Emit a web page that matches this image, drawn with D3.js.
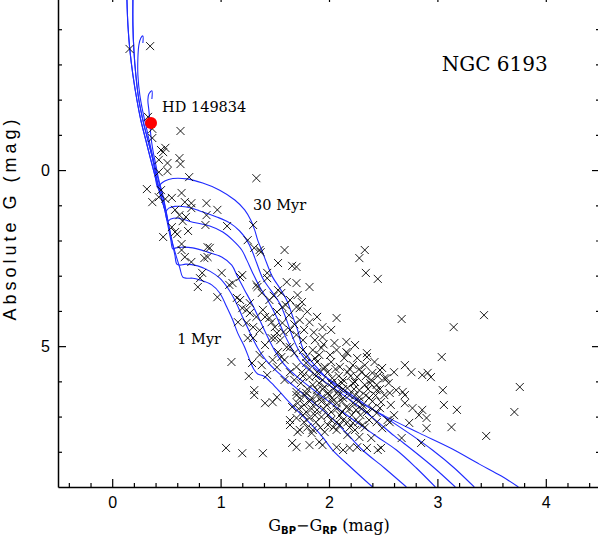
<!DOCTYPE html>
<html><head><meta charset="utf-8">
<script src="https://cdn.jsdelivr.net/npm/d3@7"></script>
<style>body{margin:0;background:#fff;} svg{display:block}</style>
</head><body><svg id="c" width="598" height="550"></svg>
<script>
// ---- data ----
const xMajorTicks=[0,1,2,3,4];
const xMinorTicks=[-0.4,-0.2,0.2,0.4,0.6,0.8,1.2,1.4,1.6,1.8,2.2,2.4,2.6,2.8,3.2,3.4,3.6,3.8,4.2,4.4];
const yMajorTicks=[0,5];
const yMinorTicks=[-4,-3,-2,-1,1,2,3,4,6,7,8];
const highlightStar=[0.358,-1.34];
const stars=[
[0.16,-3.44],[0.35,-3.52],[0.33,-1.51],[0.37,-1.17],[0.37,-0.91],[0.63,-1.11],[0.45,-0.57],[0.49,-0.63],[0.47,-0.51],[0.43,-0.29],
[0.51,-0.20],[0.62,-0.34],[0.63,-0.17],[0.43,0.06],[0.51,0.03],[0.71,0.20],[1.33,0.23],[0.32,0.54],[0.45,0.57],[0.37,0.91],
[0.43,0.77],[0.49,0.82],[0.55,0.79],[0.64,0.65],[0.67,0.91],[0.87,0.94],[0.97,1.13],[0.58,1.13],[0.62,1.28],[0.68,1.33],
[0.73,1.08],[0.65,1.45],[0.87,1.28],[0.86,1.56],[1.06,1.59],[0.55,1.62],[0.58,1.76],[0.60,1.82],[0.70,1.73],[0.47,1.90],
[0.64,2.10],[0.88,2.19],[0.73,0.94],[1.30,1.56],[1.25,1.99],[0.64,2.27],[0.67,2.47],[0.73,2.61],[0.90,2.21],[0.88,2.47],
[1.31,2.21],[1.36,2.27],[0.83,2.92],[0.81,3.07],[1.01,2.92],[1.11,3.21],[1.18,3.04],[0.79,3.32],[0.97,3.61],[1.15,3.63],
[1.08,3.26],[1.18,3.69],[1.27,3.78],[1.24,3.97],[1.16,4.32],[1.24,4.34],[1.33,4.17],[1.39,3.97],[1.34,3.32],[1.43,3.07],
[1.43,2.92],[1.53,2.64],[1.59,2.27],[1.70,2.75],[1.70,3.21],[1.82,3.32],[1.75,3.75],[1.82,4.32],[1.89,4.17],[1.94,4.46],
[2.02,4.54],[2.07,4.20],[2.28,2.50],[2.33,2.27],[2.34,2.92],[2.45,3.09],[1.25,4.77],[1.30,4.77],[1.52,4.63],[1.57,4.34],
[2.16,4.88],[2.24,4.97],[1.66,2.72],[1.61,3.18],[1.33,3.26],[1.53,3.41],[1.71,3.55],[1.73,3.92],[1.57,3.89],[1.52,4.03],
[1.41,4.17],[2.67,4.23],[3.15,4.46],[3.43,4.12],[1.50,4.77],[1.56,5.31],[2.16,5.17],[3.04,5.31],[2.35,5.31],[2.47,5.68],
[2.60,5.74],[2.70,5.54],[2.76,5.74],[2.86,5.82],[2.94,5.88],[2.53,5.91],[2.44,6.10],[2.56,6.33],[2.62,6.25],[2.70,6.39],
[3.05,6.25],[3.06,6.67],[3.18,6.81],[2.86,6.81],[2.77,6.76],[2.70,6.62],[2.74,7.18],[2.90,7.33],[3.13,7.30],[3.45,7.55],
[2.54,7.10],[2.67,7.61],[2.85,7.75],[2.45,7.95],[1.39,8.04],[1.66,7.75],[1.91,7.72],[2.13,7.95],[2.26,7.87],[1.31,6.25],
[1.41,6.62],[1.48,6.59],[1.64,7.10],[1.71,7.44],[1.84,7.47],[2.91,5.76],[2.49,5.62],[3.76,6.16],[3.71,6.87],[2.83,6.96],
[2.90,7.04],[2.56,7.16],[1.26,5.85],[1.59,5.96],[1.31,6.39],[1.52,6.45],[1.70,6.39],[1.71,6.62],[1.64,7.24],[1.70,7.87],
[1.05,7.89],[1.20,8.04],[0.85,2.50],[1.37,2.33],[1.20,2.98],[1.56,3.49],[1.20,3.92],[1.27,4.06],[1.45,4.20],[1.63,4.12],
[1.70,3.89],[1.30,4.46],[1.50,4.46],[1.47,4.77],[1.55,4.83],[1.61,5.03],[1.53,5.17],[1.10,5.45],[1.29,5.48],[1.79,5.31],
[1.70,5.59],[1.70,4.68],[1.76,4.83],[1.94,4.74],[2.35,5.20],[2.42,5.45],[1.93,5.05],[2.01,5.25],[2.07,5.11],[2.17,5.20],
[1.87,5.34],[1.79,5.48],[1.96,5.59],[2.10,5.59],[2.22,5.54],[2.30,5.74],[2.40,5.76],[2.51,5.91],[1.68,5.96],[1.82,5.88],
[1.94,5.96],[2.03,5.91],[2.13,5.96],[2.24,6.02],[2.33,6.10],[2.44,6.25],[2.68,6.30],[1.70,6.30],[1.79,6.33],[1.89,6.25],
[1.99,6.33],[2.08,6.30],[2.19,6.39],[2.28,6.45],[2.37,6.47],[2.48,6.59],[2.57,6.67],[1.66,6.73],[1.77,6.67],[1.87,6.62],
[1.98,6.67],[2.07,6.62],[2.16,6.73],[2.25,6.81],[2.35,6.87],[2.44,6.90],[1.70,7.04],[1.82,7.04],[1.93,7.01],[2.02,7.10],
[2.13,7.10],[2.22,7.18],[2.31,7.24],[1.73,7.38],[1.85,7.38],[1.96,7.44],[2.07,7.38],[2.17,7.52],[2.28,7.58],[2.39,7.61],
[1.82,7.81],[1.94,7.81],[2.07,7.87],[2.19,7.89],[2.35,7.89],[2.48,7.89],[1.89,5.45],[2.02,5.45],[2.14,5.34],[2.26,5.34],
[1.99,5.74],[2.17,5.74],[1.89,5.74],[2.08,6.10],[2.17,6.19],[1.96,6.16],[1.85,6.10],[2.28,6.25],[2.39,5.96],[2.13,6.47],
[2.03,6.47],[1.93,6.47],[2.22,6.62],[2.31,6.67],[2.12,6.87],[2.02,6.87],[1.89,6.81],[2.21,6.96],[1.79,6.87],[2.37,7.10],
[2.49,7.33],[1.99,7.24],[2.10,7.24],[2.24,7.38],[1.84,6.47],[1.73,6.47],[2.33,5.54],[2.51,6.39],[2.60,6.96],[2.47,6.76],
[1.91,5.25],[2.05,4.91],[1.85,5.11],[2.26,5.88],[1.75,5.74],[1.64,5.74],[1.59,5.39],[1.76,5.11],[1.64,5.03],[1.45,3.69],
[1.38,3.49],[1.64,3.69],[1.64,4.54],[1.73,4.26],[1.77,4.54],[1.87,4.83],[1.41,4.97],[1.36,5.25],[1.48,5.39],[1.43,5.82],
[1.38,5.54],
[1.82,5.65],[1.95,5.65],[2.06,5.65],[2.19,5.65],[2.28,5.65],[1.76,5.85],[1.88,5.85],[2.09,5.85],[2.20,5.85],[2.34,5.85],
[2.45,5.85],[1.74,6.05],[1.91,6.05],[2.02,6.05],[2.12,6.05],[2.22,6.05],[2.38,6.05],[2.55,6.05],[1.80,6.22],[1.94,6.22],
[2.04,6.22],[2.13,6.22],[2.23,6.22],[2.36,6.22],[2.47,6.22],[1.78,6.40],[1.89,6.40],[2.00,6.40],[2.09,6.40],[2.24,6.40],
[2.34,6.40],[2.43,6.40],[1.82,6.57],[1.93,6.57],[2.03,6.57],[2.12,6.57],[2.27,6.57],[2.40,6.57],[1.72,6.78],[1.84,6.78],
[1.95,6.78],[2.07,6.78],[2.19,6.78],[2.30,6.78],[2.40,6.78],[1.76,6.96],[1.87,6.96],[1.99,6.96],[2.10,6.96],[2.29,6.96],
[1.77,7.16],[1.88,7.16],[2.07,7.16],[2.17,7.16],[2.27,7.16],[2.44,7.16],[1.80,7.31],[1.92,7.31],[2.04,7.31],[2.19,7.31],
[2.33,7.31],[1.49,3.57],[1.60,3.83],[1.68,4.38],[1.80,4.02],[1.36,4.55],[1.47,4.32],[1.58,4.60],[1.86,4.61],[1.95,4.95],
[1.68,5.20],[1.52,5.60]
];
// isochrones (BP-RP, G)
const isoA=[[0.136,-4.83],[0.145,-4.12],[0.163,-3.41],[0.191,-2.70],[0.228,-1.99],[0.264,-1.42],[0.310,-0.85],[0.356,-0.29],[0.393,0.14],[0.421,0.51],
[0.439,0.42],[0.485,0.31],[0.559,0.24],[0.688,0.25],[0.835,0.37],[0.992,0.57],[1.131,0.85],[1.222,1.13],[1.278,1.42],[1.314,1.70],[1.342,1.99],[1.379,2.27],[1.425,2.64],[1.480,3.04],[1.545,3.35],[1.609,3.69],[1.664,4.15],[1.710,4.54],
[1.757,5.05],[1.867,5.54],[2.051,6.10],[2.281,6.59],[2.511,6.98],[2.834,7.47],[3.138,7.92],[3.387,8.35],[3.590,8.69],[3.747,9.00]];
const isoB=[[0.136,-4.83],[0.145,-4.12],[0.163,-3.41],[0.191,-2.70],[0.228,-1.99],[0.264,-1.42],[0.310,-0.85],[0.356,-0.29],[0.393,0.14],[0.430,0.57],[0.467,0.94],[0.495,1.16],
[0.522,1.08],[0.578,1.03],[0.688,1.05],[0.808,1.16],[0.964,1.33],[1.084,1.50],[1.176,1.73],[1.241,1.99],[1.287,2.27],[1.333,2.64],[1.388,3.07],[1.462,3.41],[1.545,3.78],[1.609,4.26],
[1.664,4.74],[1.720,5.11],[1.803,5.45],[1.932,5.79],[2.116,6.19],[2.327,6.64],[2.557,7.10],[2.760,7.52],[2.954,7.95],[3.156,8.46],[3.340,9.00]];
const isoC=[[0.191,-4.83],[0.191,-4.12],[0.200,-3.41],[0.218,-2.70],[0.246,-1.99],[0.283,-1.42],[0.329,-0.85],[0.375,-0.29],[0.412,0.28],[0.448,0.71],[0.485,1.13],[0.513,1.45],
[0.541,1.39],[0.596,1.36],[0.743,1.48],[0.900,1.59],[1.020,1.76],[1.112,1.99],[1.195,2.27],[1.241,2.55],[1.296,2.92],[1.361,3.32],[1.434,3.69],[1.517,4.17],
[1.591,4.68],[1.664,5.11],[1.747,5.48],[1.876,5.82],[2.042,6.19],[2.235,6.62],[2.429,7.10],[2.603,7.55],[2.770,7.95],[2.972,8.46],[3.165,9.00]];
const isoD=[[0.191,-4.83],[0.191,-4.12],[0.200,-3.41],[0.218,-2.70],[0.246,-1.99],[0.283,-1.42],[0.329,-0.85],[0.375,-0.29],[0.412,0.28],[0.448,0.71],[0.485,1.13],[0.513,1.56],[0.541,1.99],[0.559,2.24],
[0.587,2.21],[0.642,2.19],[0.743,2.21],[0.882,2.33],[1.010,2.47],[1.103,2.70],[1.158,3.04],[1.222,3.41],[1.287,3.78],[1.361,4.26],
[1.434,4.74],[1.508,5.17],[1.600,5.57],[1.729,5.93],[1.895,6.33],[2.079,6.76],[2.263,7.18],[2.447,7.58],[2.622,7.95],[2.806,8.46],[2.981,9.00]];
const isoE=[[0.283,-3.61],[0.283,-3.81],[0.264,-3.75],[0.246,-3.55],[0.237,-3.18],[0.237,-2.70],[0.255,-2.13],[0.283,-1.65],[0.320,-1.14],[0.356,-0.63],[0.393,-0.14],[0.430,0.34],[0.467,0.77],[0.495,1.16],[0.522,1.59],[0.550,2.01],[0.578,2.41],[0.596,2.67],
[0.624,2.70],[0.679,2.67],[0.789,2.72],[0.900,2.87],[0.992,3.07],[1.066,3.35],[1.131,3.69],[1.195,4.12],[1.268,4.60],
[1.342,5.05],[1.416,5.39],[1.526,5.74],[1.674,6.13],[1.840,6.56],[2.005,6.98],[2.162,7.47],[2.309,7.95],[2.511,8.46],[2.714,9.00]];
const isoF=[[0.366,-2.02],[0.366,-2.25],[0.338,-2.16],[0.329,-1.99],[0.338,-1.71],[0.347,-1.42],[0.356,-0.99],[0.375,-0.57],[0.403,-0.14],[0.430,0.28],[0.467,0.71],[0.495,1.13],[0.522,1.56],[0.550,1.99],[0.587,2.41],[0.624,2.78],[0.651,3.04],
[0.688,3.07],[0.743,3.07],[0.808,3.12],[0.918,3.26],[0.992,3.49],[1.057,3.89],[1.112,4.26],[1.158,4.63],[1.222,5.03],
[1.268,5.39],[1.305,5.65],[1.342,5.79],[1.397,5.85],[1.471,6.05],[1.582,6.42],[1.701,6.81],[1.831,7.21],[1.932,7.55],[2.033,7.95],[2.208,8.46],[2.401,9.00]];
const isochrones=[isoA,isoB,isoC,isoD,isoE,isoF];
const labels=[
 {t:"NGC 6193", x:3.04, y:-2.80, size:20},
 {t:"HD 149834", x:0.46, y:-1.66, size:14.5},
 {t:"30 Myr", x:1.30, y:1.14, size:14.5},
 {t:"1 Myr", x:0.60, y:4.94, size:14.5}
];

// ---- drawing ----
const svg=d3.select("#c");
const x=d3.scaleLinear().domain([-0.5,4.5]).range([58,600]);
const y=d3.scaleLinear().domain([-5,9]).range([-6,487]);
const W=598,H=550;
svg.append("rect").attr("width",W).attr("height",H).attr("fill","#fff");

svg.append("defs").append("clipPath").attr("id","clp").append("rect")
 .attr("x",58).attr("y",-6).attr("width",542).attr("height",493);
const plot=svg.append("g").attr("clip-path","url(#clp)");

const line=d3.line().x(d=>x(d[0])).y(d=>y(d[1])).curve(d3.curveCatmullRom.alpha(0.5));
plot.selectAll("path.iso").data(isochrones).join("path").attr("class","iso")
 .attr("d",line).attr("fill","none").attr("stroke","#1f2bff").attr("stroke-width",1.1);

plot.selectAll("path.star").data(stars).join("path").attr("class","star")
 .attr("transform",d=>`translate(${x(d[0])},${y(d[1])})`)
 .attr("d","M-4,-4L4,4M-4,4L4,-4").attr("stroke","#000").attr("stroke-width",0.9).attr("fill","none");

plot.append("circle").attr("cx",x(highlightStar[0])).attr("cy",y(highlightStar[1])).attr("r",6).attr("fill","#ff0000");

svg.selectAll("text.lab").data(labels).join("text").attr("class","lab")
 .attr("x",d=>x(d.x)).attr("y",d=>y(d.y)).text(d=>d.t)
 .attr("font-family","DejaVu Serif").attr("font-size",d=>d.size).attr("fill","#000");

// axes
const tickFont="Liberation Sans";
function styleAxis(g){g.selectAll("path.domain").attr("stroke","#000").attr("stroke-width",1.5);
 g.selectAll(".tick line").attr("stroke","#000").attr("stroke-width",1.2);
 g.selectAll("text").attr("font-family",tickFont).attr("font-size",16).attr("fill","#000");}

svg.append("g").attr("transform","translate(0,487)")
 .call(d3.axisBottom(x).tickValues(xMajorTicks).tickSize(-8).tickPadding(10).tickFormat(d3.format("d")).tickSizeOuter(0)).call(styleAxis);
svg.append("g").attr("transform","translate(0,487)")
 .call(d3.axisBottom(x).tickValues(xMinorTicks).tickSize(-4).tickFormat("")).call(g=>g.select(".domain").remove()).call(styleAxis);
svg.append("g").attr("transform","translate(58,0)")
 .call(d3.axisLeft(y).tickValues(yMajorTicks).tickSize(-8).tickPadding(8).tickFormat(d3.format("d")).tickSizeOuter(0)).call(styleAxis);
svg.append("g").attr("transform","translate(58,0)")
 .call(d3.axisLeft(y).tickValues(yMinorTicks).tickSize(-4).tickFormat("")).call(g=>g.select(".domain").remove()).call(styleAxis);
svg.append("g").attr("transform","translate(0,-6)")
 .call(d3.axisTop(x).tickValues(xMajorTicks).tickSize(-8).tickFormat("").tickSizeOuter(0)).call(styleAxis);
svg.append("g").attr("transform","translate(600,0)")
 .call(d3.axisRight(y).tickValues(yMajorTicks).tickSize(-8).tickFormat("").tickSizeOuter(0)).call(styleAxis);
svg.append("g").attr("transform","translate(600,0)")
 .call(d3.axisRight(y).tickValues(yMinorTicks).tickSize(-4).tickFormat("")).call(g=>g.select(".domain").remove()).call(styleAxis);

// axis titles
svg.append("text").attr("transform","translate(16,218) rotate(-90)").attr("text-anchor","middle")
 .attr("font-family",tickFont).attr("font-size",18).attr("letter-spacing",4).text("Absolute G (mag)");
const xt=svg.append("text").attr("x",329).attr("y",531).attr("text-anchor","middle")
 .attr("font-family","DejaVu Serif").attr("font-size",16);
xt.append("tspan").text("G");
xt.append("tspan").attr("dy",3).attr("font-size",10).attr("font-weight","bold").attr("font-family","DejaVu Sans").text("BP");
xt.append("tspan").attr("dy",-3).text("\u2212G");
xt.append("tspan").attr("dy",3).attr("font-size",10).attr("font-weight","bold").attr("font-family","DejaVu Sans").text("RP");
xt.append("tspan").attr("dy",-3).text(" (mag)");
</script></body></html>
